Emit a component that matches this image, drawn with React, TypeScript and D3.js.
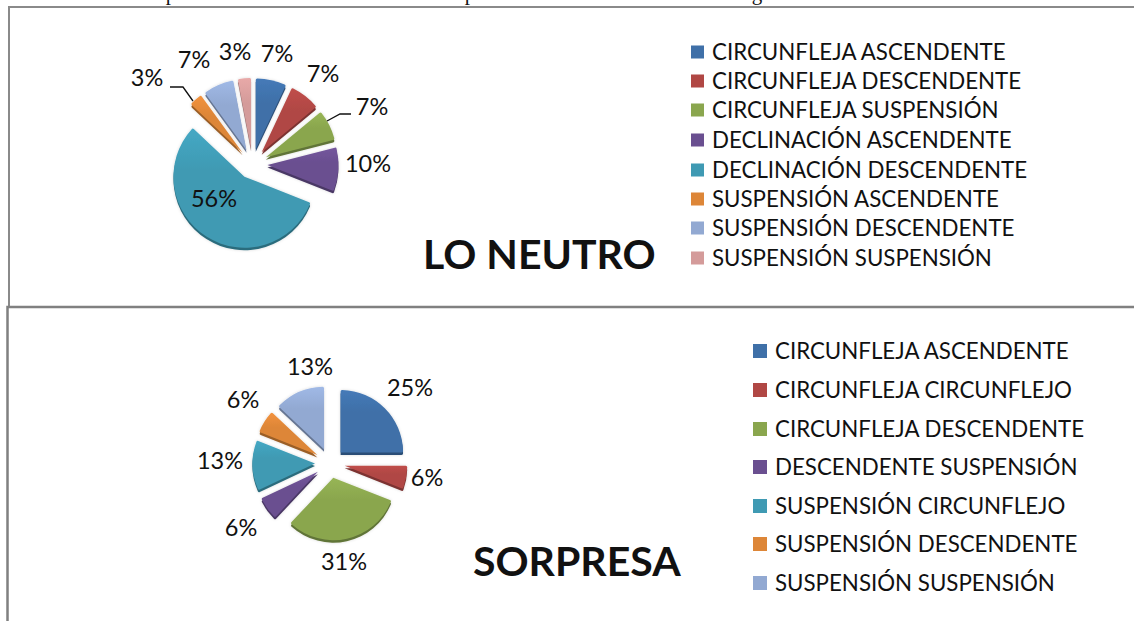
import React from "react";
import * as d3 from "d3";

const neutroLabels = ["CIRCUNFLEJA ASCENDENTE","CIRCUNFLEJA DESCENDENTE","CIRCUNFLEJA SUSPENSIÓN","DECLINACIÓN ASCENDENTE","DECLINACIÓN DESCENDENTE","SUSPENSIÓN ASCENDENTE","SUSPENSIÓN DESCENDENTE","SUSPENSIÓN SUSPENSIÓN"];
const neutroValues = [7,7,7,10,56,3,7,3];
const neutroColors = ["#3f70a8","#b04744","#8aa64e","#6a4f90","#3f9ab3","#dd8638","#92a9d2","#d49b9a"];
const neutroLabelPos: [number,number][] = [[277,54],[323,74],[372,107],[368,164],[214,199],[147,78],[194,60],[235,52]];
const neutroLegendY = [52,81,110,140,170,199,228,258];

const sorpresaLabels = ["CIRCUNFLEJA ASCENDENTE","CIRCUNFLEJA CIRCUNFLEJO","CIRCUNFLEJA DESCENDENTE","DESCENDENTE SUSPENSIÓN","SUSPENSIÓN CIRCUNFLEJO","SUSPENSIÓN DESCENDENTE","SUSPENSIÓN SUSPENSIÓN"];
const sorpresaValues = [25,6,31,6,13,6,13];
const sorpresaColors = ["#3f70a8","#b04744","#8aa64e","#6a4f90","#3f9ab3","#dd8638","#92a9d2"];
const sorpresaLabelPos: [number,number][] = [[410,388],[427,478],[344,562],[241,528],[220,461],[243,400],[310,367]];
const sorpresaLegendY = [351,390,429,467,506,544,583];

const clippedLine = [["p",171],["p",470],["g",757]] as const;

const leaders: [number,number][][] = [
  [[170,87],[183,87],[193,101]],
  [[327,121],[340,114],[351,114]],
];

const FONT = "Lato, 'Open Sans', sans-serif";

function Pie({cx,cy,r,explode,values,colors,id}:{cx:number;cy:number;r:number;explode:number;values:number[];colors:string[];id:string}) {
  const arcs = d3.pie<number>().sort(null)(values);
  const arc = d3.arc<d3.PieArcDatum<number>>().innerRadius(0).outerRadius(r).cornerRadius(1.5);
  return (
    <g>
      {arcs.map((a,i)=>{
        const mid=(a.startAngle+a.endAngle)/2;
        const dx=cx+Math.sin(mid)*explode, dy=cy-Math.cos(mid)*explode;
        const dark=d3.color(colors[i])!.darker(1).formatHex();
        const light=d3.color(colors[i])!.brighter(0.25).formatHex();
        return (
          <g key={i} transform={`translate(${dx},${dy})`} filter={`url(#soft${id})`}>
            <defs>
              <linearGradient id={`g${id}${i}`} x1="0" y1="0" x2="0" y2="1">
                <stop offset="0" stopColor={light}/>
                <stop offset="0.35" stopColor={colors[i]}/>
                <stop offset="1" stopColor={colors[i]}/>
              </linearGradient>
            </defs>
            <path d={arc(a)!} transform="translate(0,2.5)" fill={dark}/>
            <path d={arc(a)!} fill={`url(#g${id}${i})`}/>
          </g>
        );
      })}
    </g>
  );
}

function Legend({x,tx,size,ys,labels,colors}:{x:number;tx:number;size:number;ys:number[];labels:string[];colors:string[]}) {
  return <g>{labels.map((l,i)=>(
    <g key={l}>
      <rect x={x} y={ys[i]-size/2} width={size} height={size} fill={colors[i]}/>
      <text x={tx} y={ys[i]} dy="0.35em" fontSize={22.3} fontFamily={FONT} fill="#111">{l}</text>
    </g>
  ))}</g>;
}

function Labels({pos,values}:{pos:[number,number][];values:number[]}) {
  return <g>{values.map((v,i)=>(
    <text key={i} x={pos[i][0]} y={pos[i][1]} dy="0.35em" textAnchor="middle" fontSize={23.5} fontFamily={FONT} fill="#111">{v}%</text>
  ))}</g>;
}

export default function App() {
  const line = d3.line();
  return (
    <svg width={1134} height={621} style={{position:"fixed",left:0,top:0,background:"#fff"}}>
      <defs>
        <filter id="softa" x="-20%" y="-20%" width="140%" height="140%"><feDropShadow dx="0" dy="0" stdDeviation="1.5" floodColor="#000" floodOpacity="0.15"/></filter>
        <filter id="softb" x="-20%" y="-20%" width="140%" height="140%"><feDropShadow dx="0" dy="0" stdDeviation="1.5" floodColor="#000" floodOpacity="0.15"/></filter>
      </defs>
      {clippedLine.map(([c,x],i)=><text key={i} x={x} y={0} textAnchor="middle" fontSize={21} fontFamily="'Liberation Serif', serif" fill="#111">{c}</text>)}
      <path d="M9,306V7H1134" fill="none" stroke="#8a8a8a" strokeWidth={2}/>
      <path d="M7.5,621V307H1134" fill="none" stroke="#808080" strokeWidth={2.5}/>
      <Pie id="a" cx={252.5} cy={164} r={71} explode={15} values={neutroValues} colors={neutroColors}/>
      <Pie id="b" cx={330} cy={463} r={62.5} explode={15} values={sorpresaValues} colors={sorpresaColors}/>
      {leaders.map((p,i)=><path key={i} d={line(p)!} fill="none" stroke="#111" strokeWidth={1.3}/>)}
      <Labels pos={neutroLabelPos} values={neutroValues}/>
      <Labels pos={sorpresaLabelPos} values={sorpresaValues}/>
      <Legend x={691} tx={712} size={13} ys={neutroLegendY} labels={neutroLabels} colors={neutroColors}/>
      <Legend x={753} tx={775} size={14} ys={sorpresaLegendY} labels={sorpresaLabels} colors={sorpresaColors}/>
      <text x={423} y={255} dy="0.35em" fontSize={41} fontWeight={700} fontFamily={FONT} fill="#111">LO NEUTRO</text>
      <text x={473} y={562} dy="0.35em" fontSize={41} fontWeight={700} fontFamily={FONT} fill="#111">SORPRESA</text>
    </svg>
  );
}
